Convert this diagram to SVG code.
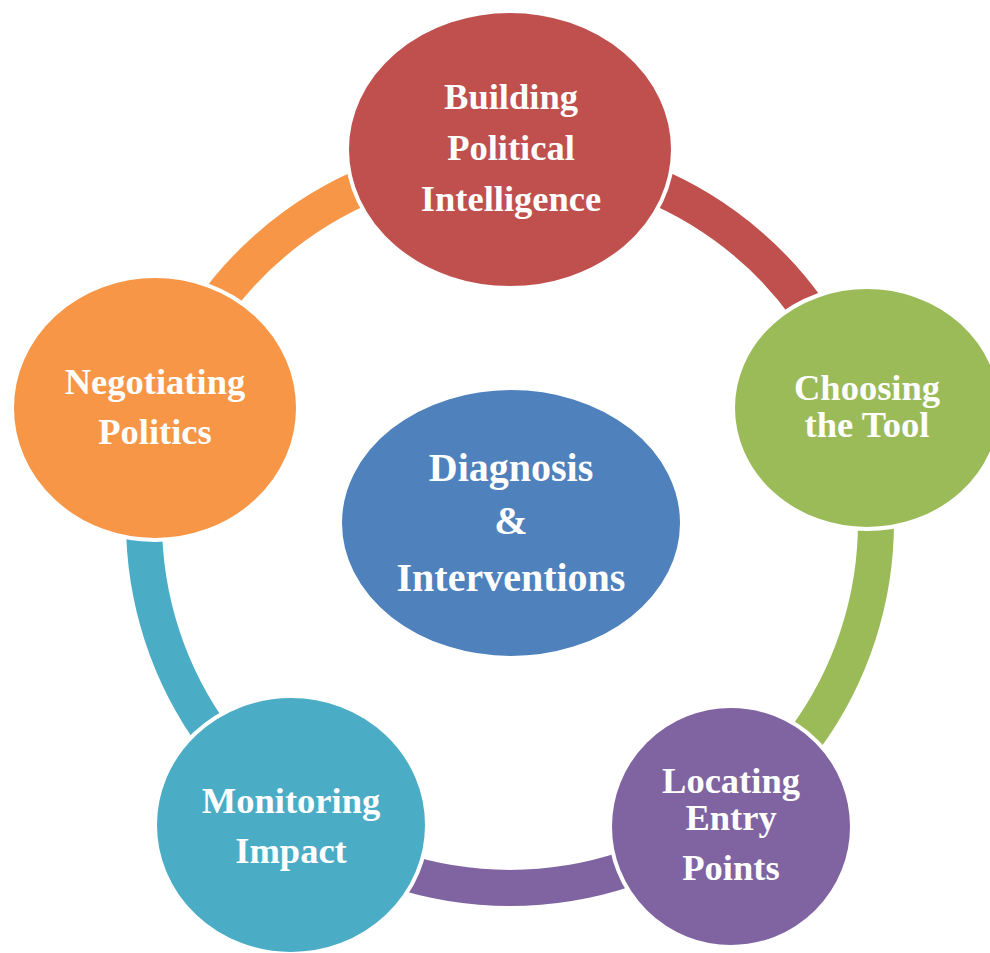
<svg xmlns="http://www.w3.org/2000/svg" width="990" height="953" viewBox="0 0 990 953">
  <style>
    .arc { fill: none; stroke-width: 36; stroke-linecap: butt; }
    .node { stroke: #FFFFFF; stroke-width: 4; }
    .label { fill: #FFFFFF; font-family: "Liberation Serif", "Times New Roman", serif; font-weight: bold; font-size: 36.5px; text-anchor: middle; }
    .hub { font-size: 40px; }
  </style>
  <rect width="990" height="953" fill="#FFFFFF"/>

  <!-- ring segments on a circle centred at (510,522), r = 366 -->
  <g id="connectors">
    <path class="arc" stroke="#C0504D" d="M 510 156 A 366 366 0 0 1 858.1 408.9"/>
    <path class="arc" stroke="#9BBB59" d="M 858.1 408.9 A 366 366 0 0 1 725.1 818.1"/>
    <path class="arc" stroke="#8064A2" d="M 725.1 818.1 A 366 366 0 0 1 294.9 818.1"/>
    <path class="arc" stroke="#4BACC6" d="M 294.9 818.1 A 366 366 0 0 1 161.9 408.9"/>
    <path class="arc" stroke="#F79646" d="M 161.9 408.9 A 366 366 0 0 1 510 156"/>
  </g>

  <g id="hub">
    <ellipse class="node" cx="511" cy="523" rx="171" ry="135" fill="#4F81BD"/>
    <text class="label hub" x="511" y="481">Diagnosis</text>
    <text class="label hub" x="511" y="534">&amp;</text>
    <text class="label hub" x="511" y="591">Interventions</text>
  </g>

  <g id="building-political-intelligence">
    <ellipse class="node" cx="510" cy="149.5" rx="163" ry="138.5" fill="#C0504D"/>
    <text class="label" x="511" y="109">Building</text>
    <text class="label" x="511" y="160">Political</text>
    <text class="label" x="511" y="211">Intelligence</text>
  </g>

  <g id="choosing-the-tool">
    <ellipse class="node" cx="867" cy="408" rx="134" ry="121" fill="#9BBB59"/>
    <text class="label" x="867" y="400">Choosing</text>
    <text class="label" x="867" y="437">the Tool</text>
  </g>

  <g id="locating-entry-points">
    <ellipse class="node" cx="731" cy="826.5" rx="121" ry="120.5" fill="#8064A2"/>
    <text class="label" x="731" y="793">Locating</text>
    <text class="label" x="731" y="830">Entry</text>
    <text class="label" x="731" y="880">Points</text>
  </g>

  <g id="monitoring-impact">
    <ellipse class="node" cx="291" cy="825" rx="136" ry="129" fill="#4BACC6"/>
    <text class="label" x="291" y="813">Monitoring</text>
    <text class="label" x="291" y="863">Impact</text>
  </g>

  <g id="negotiating-politics">
    <ellipse class="node" cx="155" cy="408" rx="143" ry="132" fill="#F79646"/>
    <text class="label" x="155" y="394">Negotiating</text>
    <text class="label" x="155" y="444">Politics</text>
  </g>
</svg>
